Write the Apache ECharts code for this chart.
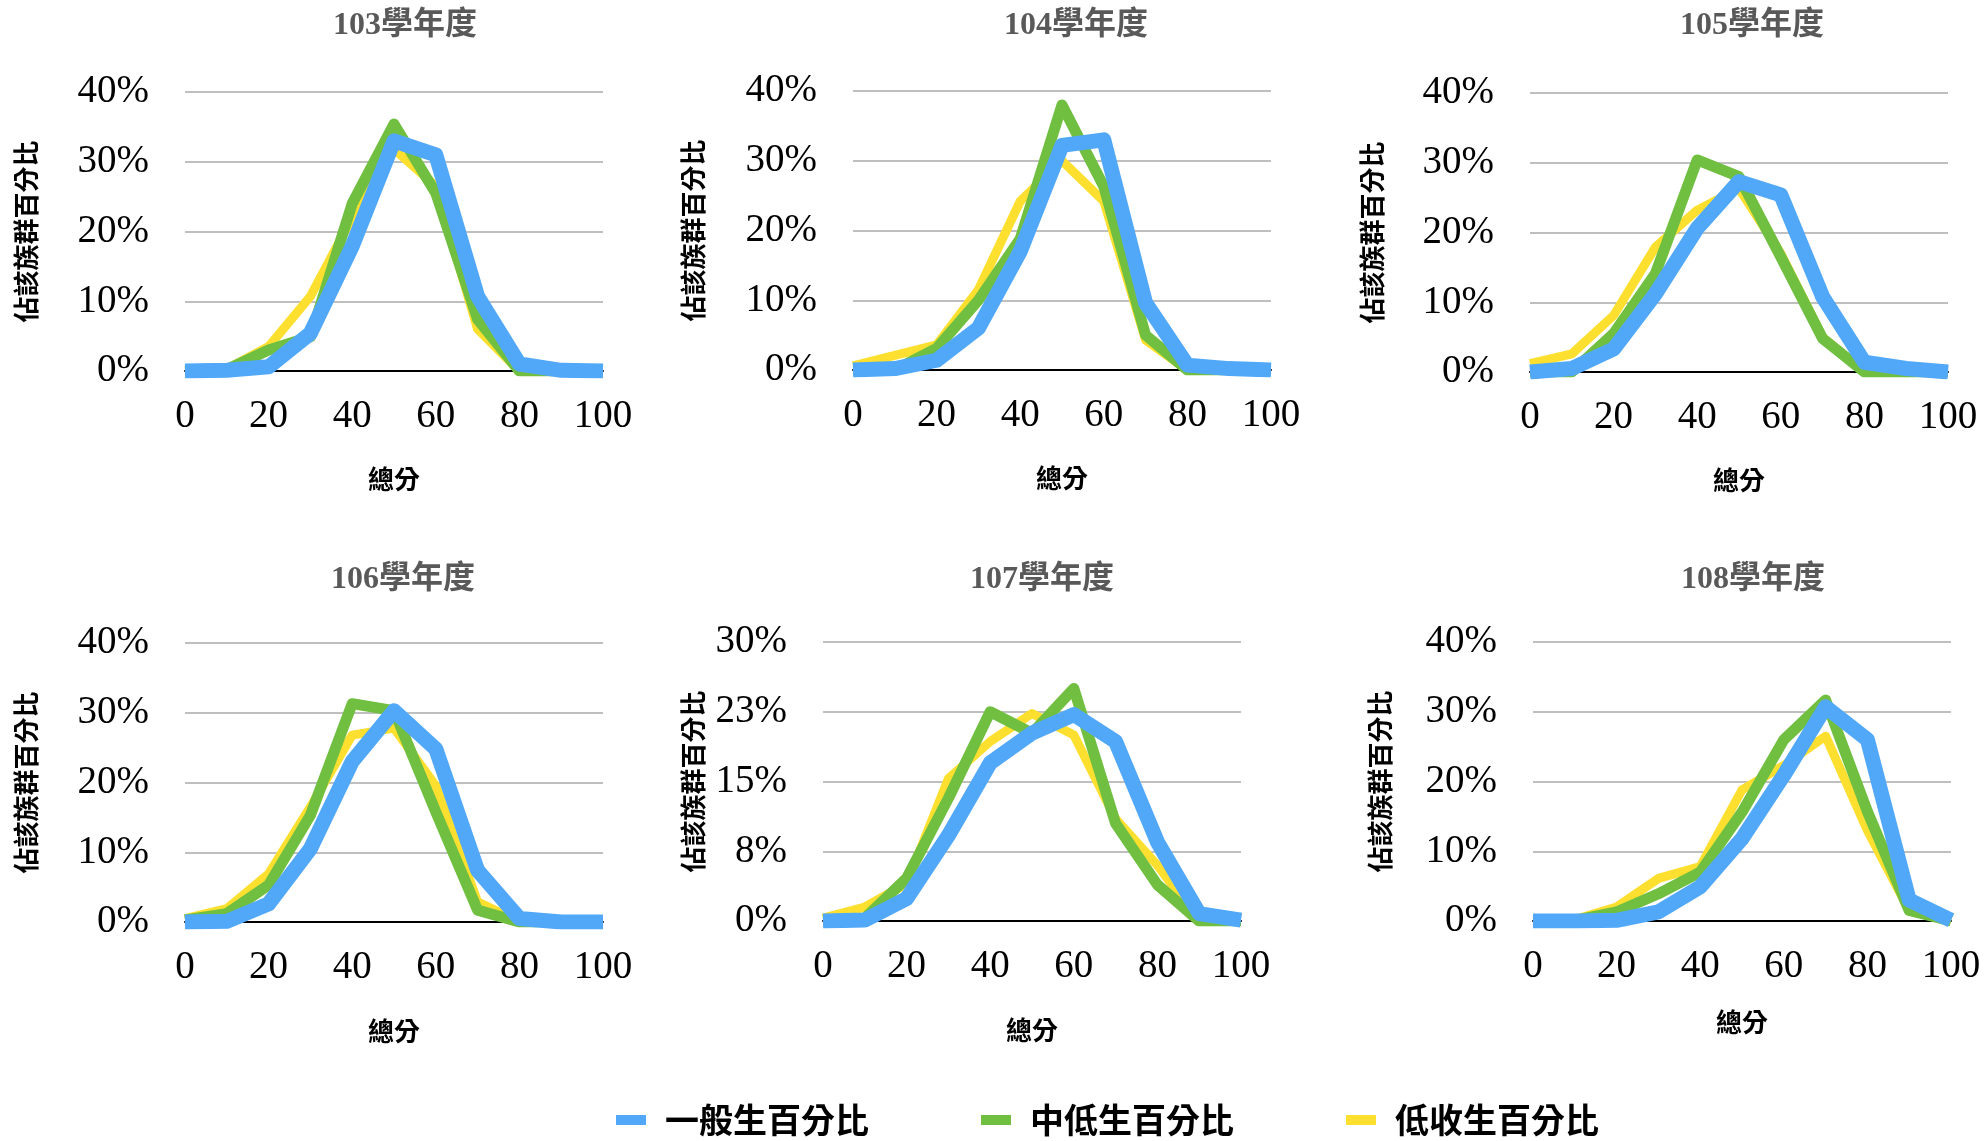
<!DOCTYPE html>
<html>
<head>
<meta charset="utf-8">
<script src="https://cdn.jsdelivr.net/npm/echarts@6/dist/echarts.min.js"></script>
<style>
html,body{margin:0;padding:0;background:#fff;}
#c{width:1985px;height:1141px;}
</style>
</head>
<body>
<div id="c"></div>
<script>
// Scores (x values)
const scores = [0, 10, 20, 30, 40, 50, 60, 70, 80, 90, 100];
const years = ['103學年度', '104學年度', '105學年度', '106學年度', '107學年度', '108學年度'];
const seriesNames = ['一般生百分比', '中低生百分比', '低收生百分比'];

// Percent values per year
const general103 = [0, 0.1, 0.6, 5.4, 17.9, 33, 31, 10.7, 1, 0.1, 0];
const midLow103  = [0, 0.2, 3, 4.9, 24, 35.4, 25.5, 7.4, 0, 0, 0];
const low103     = [0, 0.3, 3.5, 10.7, 22, 31.8, 26.5, 6, 0, 0, 0];

const general104 = [0, 0.2, 1.4, 6, 17, 32.2, 33, 9.6, 0.7, 0.2, 0];
const midLow104  = [0, 0, 3.1, 10, 18.8, 38, 26.3, 5, 0, 0, 0];
const low104     = [0.6, 2.1, 3.6, 11.5, 24.2, 30, 24.2, 4.3, 0, 0, 0];

const general105 = [0, 0.5, 3.3, 11.2, 20.6, 27.3, 25.4, 10.8, 1.4, 0.5, 0];
const midLow105  = [0, 0, 5.5, 14.1, 30.4, 28, 16.5, 4.8, 0, 0, 0];
const low105     = [1.2, 2.6, 8.1, 17.9, 23.2, 26.3, 17, 5, 0, 0, 0];

const general106 = [0, 0.1, 2.6, 10.5, 23, 30.3, 24.8, 7.4, 0.5, 0, 0];
const midLow106  = [0.3, 1.2, 5.3, 15.3, 31.3, 30.3, 15.8, 1.7, 0, 0, 0];
const low106     = [0.5, 1.9, 6.9, 16.5, 26.8, 27.8, 19.5, 2.9, 0, 0, 0];

const general107 = [0, 0.1, 2.4, 9.2, 17, 20.2, 22.2, 19.3, 8.5, 0.8, 0.1];
const midLow107  = [0.1, 0.3, 4.6, 13.2, 22.5, 20.2, 25, 10.5, 3.9, 0, 0];
const low107     = [0.3, 1.5, 4, 15.3, 19.3, 22.3, 20, 11, 6, 0, 0];

const general108 = [0, 0, 0.1, 1.3, 4.9, 11.8, 20.9, 30.7, 26, 3, 0.1];
const midLow108  = [0, 0.1, 1.3, 3.9, 7, 15.6, 26, 31.7, 15.7, 1.5, 0];
const low108     = [0, 0.2, 2, 6.1, 7.8, 18.8, 22.3, 26.5, 13, 1.5, 0];

// Y axis max / interval per panel (percent)
const yMax      = [40, 40, 40, 40, 30, 40];
const yInterval = [10, 10, 10, 10, 7.5, 10];

const generalAll = [general103, general104, general105, general106, general107, general108];
const midLowAll  = [midLow103, midLow104, midLow105, midLow106, midLow107, midLow108];
const lowAll     = [low103, low104, low105, low106, low107, low108];

// Layout (pixels)
const grids = [
  {left: 185, top: 92, width: 418, height: 279},
  {left: 853, top: 91, width: 418, height: 279},
  {left: 1530, top: 93, width: 418, height: 279},
  {left: 185, top: 643, width: 418, height: 279},
  {left: 823, top: 642, width: 418, height: 279},
  {left: 1533, top: 642, width: 418, height: 279}
];
const titlePos = [[405, 10], [1076, 10], [1752, 10], [403, 564], [1042, 564], [1753, 564]];
const yNameGap = [146, 147, 145, 146, 117, 140];
const xNameGap = [95, 95, 95, 96, 96, 88];

const colors = {general: '#52A8F8', midLow: '#70BF41', low: '#FDE02F'};
const serif = "'Liberation Serif', 'Times New Roman', serif";
const cjk = "'Noto Sans CJK TC', 'Noto Sans CJK SC', sans-serif";

const titles = [], xAxes = [], yAxes = [], series = [];
years.forEach((y, i) => {
  titles.push({
    text: y, left: titlePos[i][0], top: titlePos[i][1], textAlign: 'center', padding: 0,
    textStyle: {fontFamily: serif + ", " + cjk, fontSize: 32, fontWeight: 'bold', color: '#595959'}
  });
  xAxes.push({
    type: 'value', gridIndex: i, min: 0, max: 100, interval: 20,
    name: '總分', nameLocation: 'middle', nameGap: xNameGap[i],
    nameTextStyle: {fontFamily: cjk, fontSize: 26, fontWeight: 'bold', color: '#000'},
    axisLine: {show: true, onZero: true, lineStyle: {color: '#000', width: 2}},
    axisTick: {show: false},
    splitLine: {show: false},
    axisLabel: {fontFamily: serif, fontSize: 39, color: '#000', margin: 26}
  });
  yAxes.push({
    type: 'value', gridIndex: i, min: 0, max: yMax[i], interval: yInterval[i],
    name: '佔該族群百分比', nameLocation: 'middle', nameGap: yNameGap[i], nameRotate: 90,
    nameTextStyle: {fontFamily: cjk, fontSize: 26, fontWeight: 'bold', color: '#000'},
    axisLine: {show: false}, axisTick: {show: false},
    splitLine: {show: true, lineStyle: {color: '#BFBFBF', width: 2}},
    axisLabel: {fontFamily: serif, fontSize: 39, color: '#000', margin: 36,
      formatter: v => Math.round(v) + '%'}
  });
  const mk = (name, arr, color, width, z) => ({
    name: name, type: 'line', xAxisIndex: i, yAxisIndex: i,
    data: scores.map((s, k) => [s, arr[k]]),
    showSymbol: false, symbol: 'none', z: z,
    lineStyle: {color: color, width: width, join: 'round', cap: 'butt'},
    itemStyle: {color: color}
  });
  series.push(mk(seriesNames[2], lowAll[i], colors.low, 9, 2));
  series.push(mk(seriesNames[1], midLowAll[i], colors.midLow, 11, 3));
  series.push(mk(seriesNames[0], generalAll[i], colors.general, 15, 4));
});

const chart = echarts.init(document.getElementById('c'), null, {renderer: 'canvas'});
chart.setOption({
  animation: false,
  backgroundColor: '#fff',
  title: titles,
  grid: grids,
  xAxis: xAxes,
  yAxis: yAxes,
  legend: {
    data: seriesNames,
    left: 611, top: 1098,
    icon: 'rect', itemWidth: 30, itemHeight: 10, itemGap: 112,
    textStyle: {fontFamily: cjk, fontSize: 34, fontWeight: 'bold', color: '#000', padding: [0, 0, 0, 14]}
  },
  series: series
});
</script>
</body>
</html>
